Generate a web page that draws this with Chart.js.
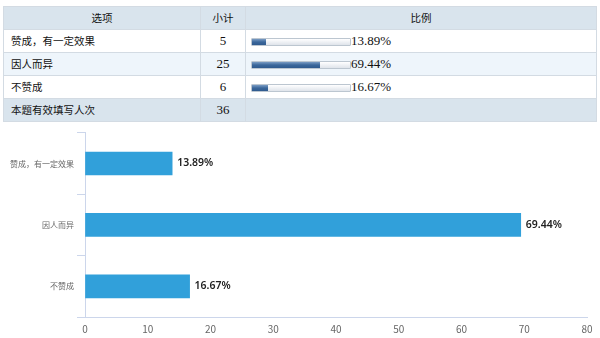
<!DOCTYPE html>
<html>
<head>
<meta charset="utf-8">
<script src="https://cdn.jsdelivr.net/npm/chart.js@4.4.1/dist/chart.umd.min.js"></script>
<style>
  html, body { margin: 0; padding: 0; background: #fff; }
  body { width: 600px; height: 338px; position: relative; overflow: hidden; }
  #summary {
    position: absolute; left: 3px; top: 6px; width: 594px;
    border-collapse: collapse; table-layout: fixed;
    font-family: "Noto Sans CJK SC", sans-serif; font-size: 10.5px; color: #111;
  }
  #summary td, #summary th {
    border: 1px solid #d3dbe3; height: 22px; padding: 0; line-height: 20px;
  }
  #summary th { background: #d9e4ed; font-weight: normal; text-align: center; }
  #summary td.opt { padding-left: 7px; }
  #summary td.num { text-align: center; font-family: "Liberation Serif", serif; font-size: 13px; }
  #summary tr.alt td { background: #eef5fb; }
  #summary tr.foot td { background: #d9e4ed; }
  .track {
    display: inline-block; vertical-align: middle; margin-left: 5px;
    width: 98px; height: 6px; border: 1px solid #bcc6d0; border-radius: 1px;
    background: linear-gradient(#ffffff, #dfe4ea); position: relative;
  }
  .fill {
    position: absolute; left: 0; top: 0; height: 100%;
    background: linear-gradient(#7a9cc4, #3b679b 50%, #2f5a8e);
  }
  .pct { font-family: "Liberation Serif", serif; font-size: 13px; vertical-align: middle; }
  #chartBox { position: absolute; left: 0; top: 125px; width: 600px; height: 213px; }
</style>
</head>
<body>
<table id="summary">
  <colgroup><col style="width:197px"><col style="width:45px"><col></colgroup>
  <thead><tr><th>选项</th><th>小计</th><th>比例</th></tr></thead>
  <tbody id="rows"></tbody>
</table>
<div id="chartBox"><canvas id="bars"></canvas></div>
<script>
const options = ['赞成，有一定效果', '因人而异', '不赞成'];
const counts = [5, 25, 6];
const percents = [13.89, 69.44, 16.67];
const totalLabel = '本题有效填写人次';
const total = 36;
const xTicks = [0, 10, 20, 30, 40, 50, 60, 70, 80];

// summary table
const tbody = document.getElementById('rows');
options.forEach((opt, i) => {
  const tr = document.createElement('tr');
  if (i === 1) tr.className = 'alt';
  tr.innerHTML =
    '<td class="opt">' + opt + '</td>' +
    '<td class="num">' + counts[i] + '</td>' +
    '<td><span class="track"><span class="fill" style="width:' + percents[i] + '%"></span></span>' +
    '<span class="pct">' + percents[i].toFixed(2) + '%</span></td>';
  tbody.appendChild(tr);
});
const foot = document.createElement('tr');
foot.className = 'foot';
foot.innerHTML = '<td class="opt">' + totalLabel + '</td><td class="num">' + total + '</td><td></td>';
tbody.appendChild(foot);

// percentage labels at the end of each bar
const valueLabels = {
  id: 'valueLabels',
  afterDatasetsDraw(chart) {
    const ctx = chart.ctx;
    const meta = chart.getDatasetMeta(0);
    ctx.save();
    ctx.font = '600 10.5px "Noto Sans", sans-serif';
    ctx.fillStyle = '#222';
    ctx.textAlign = 'left';
    ctx.textBaseline = 'middle';
    meta.data.forEach((bar, i) => {
      ctx.fillText(percents[i].toFixed(2) + '%', bar.x + 5, bar.y);
    });
    ctx.restore();
  }
};

const axisColor = '#ccd6eb';

new Chart(document.getElementById('bars'), {
  type: 'bar',
  data: {
    labels: options,
    datasets: [{
      data: percents,
      backgroundColor: '#31a0da',
      borderWidth: 0,
      barThickness: 23
    }]
  },
  options: {
    indexAxis: 'y',
    responsive: true,
    maintainAspectRatio: false,
    animation: false,
    layout: { padding: { top: 3, right: 13, left: 0, bottom: 0 } },
    plugins: { legend: { display: false }, tooltip: { enabled: false } },
    scales: {
      x: {
        min: 0,
        max: 80,
        afterBuildTicks: (scale) => { scale.ticks = xTicks.map(v => ({ value: v })); },
        grid: { drawOnChartArea: false, drawTicks: false },
        border: { color: axisColor },
        ticks: {
          padding: 6,
          color: '#666',
          font: { family: '"Noto Sans CJK SC", sans-serif', size: 10 }
        },
        afterFit: (scale) => { scale.height = 21; }
      },
      y: {
        grid: { offset: true, drawOnChartArea: false, tickLength: 8, color: axisColor },
        border: { color: axisColor },
        ticks: {
          padding: 3,
          color: '#666',
          font: { family: '"Noto Sans CJK SC", sans-serif', size: 8 }
        },
        afterFit: (scale) => { scale.width = 85; }
      }
    }
  },
  plugins: [valueLabels]
});
</script>
</body>
</html>
